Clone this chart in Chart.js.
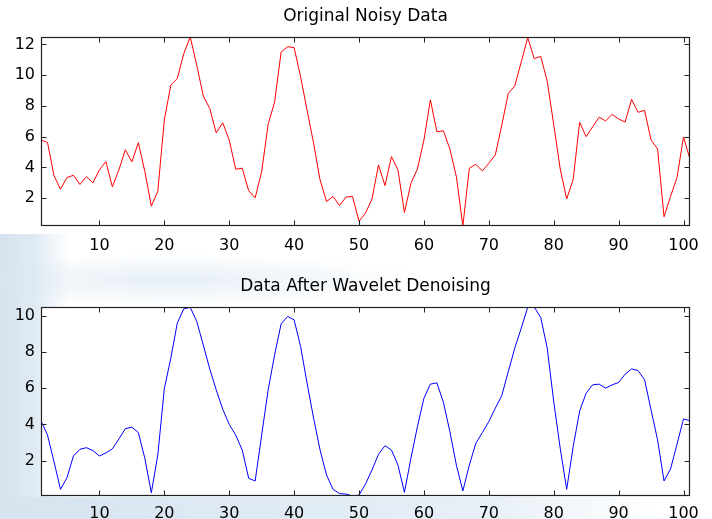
<!DOCTYPE html>
<html><head><meta charset="utf-8">
<script src="https://cdn.jsdelivr.net/npm/chart.js@4.4.1/dist/chart.umd.min.js"></script>
<style>
html,body{margin:0;padding:0;background:#fff;}
#wrap{position:relative;width:712px;height:519px;overflow:hidden;}
.wm{position:absolute;pointer-events:none;}
canvas{position:absolute;left:0;}
</style></head><body>
<div id="wrap">
<div class="wm" style="left:0;top:234px;width:70px;height:285px;background:linear-gradient(to right,#d5e3ef 0%,#dfeaf3 50%,rgba(223,234,243,0) 100%);"></div>
<div class="wm" style="left:0;top:250px;width:500px;height:56px;background:radial-gradient(ellipse 260px 26px at 170px 30px,rgba(220,232,242,0.7),rgba(220,232,242,0));"></div>
<div class="wm" style="left:0;top:497px;width:660px;height:22px;background:linear-gradient(to right,#d6e4f0 0%,#dfeaf4 40%,#e8f0f7 75%,rgba(255,255,255,0) 100%);"></div>
<canvas id="c1" width="712" height="260" style="top:0"></canvas>
<canvas id="c2" width="712" height="259" style="top:260px"></canvas>
</div>
<script>
// ---- data ----
const sampleIndex = [1,2,3,4,5,6,7,8,9,10,11,12,13,14,15,16,17,18,19,20,21,22,23,24,25,26,27,28,29,30,31,32,33,34,35,36,37,38,39,40,41,42,43,44,45,46,47,48,49,50,51,52,53,54,55,56,57,58,59,60,61,62,63,64,65,66,67,68,69,70,71,72,73,74,75,76,77,78,79,80,81,82,83,84,85,86,87,88,89,90,91,92,93,94,95,96,97,98,99,100,101];
const noisyData = [5.78,5.63,3.47,2.58,3.34,3.49,2.89,3.40,2.99,3.84,4.38,2.73,3.84,5.15,4.36,5.61,3.73,1.48,2.45,7.08,9.35,9.78,11.40,12.48,10.64,8.65,7.83,6.25,6.90,5.78,3.88,3.95,2.48,2.02,3.73,6.80,8.27,11.50,11.85,11.79,9.90,7.72,5.57,3.19,1.78,2.11,1.52,2.07,2.11,0.50,1.03,1.94,4.16,2.82,4.70,3.84,1.07,2.97,3.90,5.78,8.39,6.32,6.38,5.20,3.40,0.19,3.95,4.20,3.77,4.27,4.81,6.75,8.81,9.30,10.86,12.44,11.07,11.22,9.60,6.80,3.90,1.95,3.22,6.93,6.00,6.64,7.27,7.02,7.45,7.15,6.95,8.42,7.58,7.71,5.78,5.20,0.79,2.11,3.34,5.98,4.53];
const denoisedData = [4.20,3.42,1.95,0.42,1.06,2.26,2.63,2.72,2.56,2.26,2.43,2.65,3.20,3.77,3.85,3.55,2.13,0.23,2.32,5.97,7.66,9.60,10.39,10.47,9.69,8.40,7.07,5.91,4.84,4.01,3.42,2.59,1.03,0.88,3.42,5.91,7.85,9.56,9.97,9.78,8.31,6.28,4.35,2.59,1.21,0.42,0.18,0.16,0.05,0.10,0.71,1.49,2.35,2.83,2.59,1.76,0.25,2.13,3.88,5.45,6.23,6.30,5.23,3.61,1.76,0.33,1.76,2.96,3.55,4.16,4.90,5.60,6.92,8.22,9.32,10.49,10.49,9.91,8.22,5.27,2.69,0.42,2.78,4.75,5.73,6.19,6.23,6.01,6.19,6.32,6.78,7.07,6.98,6.47,4.81,3.15,0.88,1.54,2.91,4.31,4.21];
const xTickValues = [10,20,30,40,50,60,70,80,90,100];
const yTicksTop = [2,4,6,8,10,12];
const yTicksBottom = [2,4,6,8,10];
const topTitle = 'Original Noisy Data';
const bottomTitle = 'Data After Wavelet Denoising';

Chart.defaults.color = '#000';
Chart.defaults.font.family = '"DejaVu Sans", Arial, sans-serif';

const matlabAxes = {
  id: 'matlabAxes',
  beforeDraw(chart) {
    const {ctx, chartArea: a} = chart;
    ctx.save();
    ctx.fillStyle = '#fff';
    ctx.fillRect(a.left, a.top, a.right - a.left, a.bottom - a.top);
    ctx.restore();
  },
  afterDraw(chart, args, opts) {
    const {ctx, chartArea: a, scales: {x, y}} = chart;
    const L = Math.round(a.left) + 0.5, R = Math.round(a.right) - 0.5;
    const T = Math.round(a.top) + 0.5, B = Math.round(a.bottom) - 0.5;
    ctx.save();
    ctx.strokeStyle = '#222';
    ctx.lineWidth = 1;
    ctx.beginPath();
    x.ticks.forEach(t => {
      const p = Math.round(x.getPixelForValue(t.value)) + 0.5;
      ctx.moveTo(p, B); ctx.lineTo(p, B - 5);
      ctx.moveTo(p, T); ctx.lineTo(p, T + 5);
    });
    y.ticks.forEach(t => {
      const p = Math.round(y.getPixelForValue(t.value)) + 0.5;
      ctx.moveTo(L, p); ctx.lineTo(L + 5, p);
      ctx.moveTo(R, p); ctx.lineTo(R - 5, p);
    });
    ctx.stroke();
    ctx.lineWidth = 1.2;
    ctx.strokeRect(L, T, R - L, B - T);
    ctx.fillStyle = '#000';
    ctx.font = '17px "DejaVu Sans", Arial, sans-serif';
    ctx.textAlign = 'center';
    ctx.textBaseline = 'alphabetic';
    ctx.fillText(opts.title, (a.left + a.right) / 2, a.top - opts.titleGap);
    ctx.restore();
  }
};

function makeChart(id, series, color, yTicks, padTop, xHeight, labelPad, title, titleGap) {
  return new Chart(document.getElementById(id), {
    type: 'line',
    data: {
      datasets: [{
        data: sampleIndex.map((v, i) => ({x: v, y: series[i]})),
        borderColor: color,
        borderWidth: 1,
        pointRadius: 0,
        tension: 0,
        fill: false
      }]
    },
    options: {
      responsive: false,
      animation: false,
      devicePixelRatio: 1,
      layout: {padding: {left: 0, right: 22, top: padTop, bottom: 0}},
      plugins: {
        legend: {display: false},
        tooltip: {enabled: false},
        matlabAxes: {title: title, titleGap: titleGap}
      },
      scales: {
        x: {
          type: 'linear',
          min: sampleIndex[0],
          max: sampleIndex[sampleIndex.length - 1],
          grid: {display: false, drawTicks: false},
          border: {display: false},
          ticks: {font: {size: 16}, padding: labelPad, maxRotation: 0, callback: v => String(v)},
          afterBuildTicks: s => { s.ticks = xTickValues.map(v => ({value: v})); },
          afterFit: s => { s.height = xHeight; }
        },
        y: {
          type: 'linear',
          min: Math.min(...series),
          max: Math.max(...series),
          grid: {display: false, drawTicks: false},
          border: {display: false},
          ticks: {font: {size: 16}, padding: 6, callback: v => String(v)},
          afterBuildTicks: s => { s.ticks = yTicks.map(v => ({value: v})); },
          afterFit: s => { s.width = 41; }
        }
      }
    },
    plugins: [matlabAxes]
  });
}

makeChart('c1', noisyData, '#ff0000', yTicksTop, 37, 34, 10, topTitle, 16);
makeChart('c2', denoisedData, '#0000ff', yTicksBottom, 47, 23, 8, bottomTitle, 16);
</script>
</body></html>
